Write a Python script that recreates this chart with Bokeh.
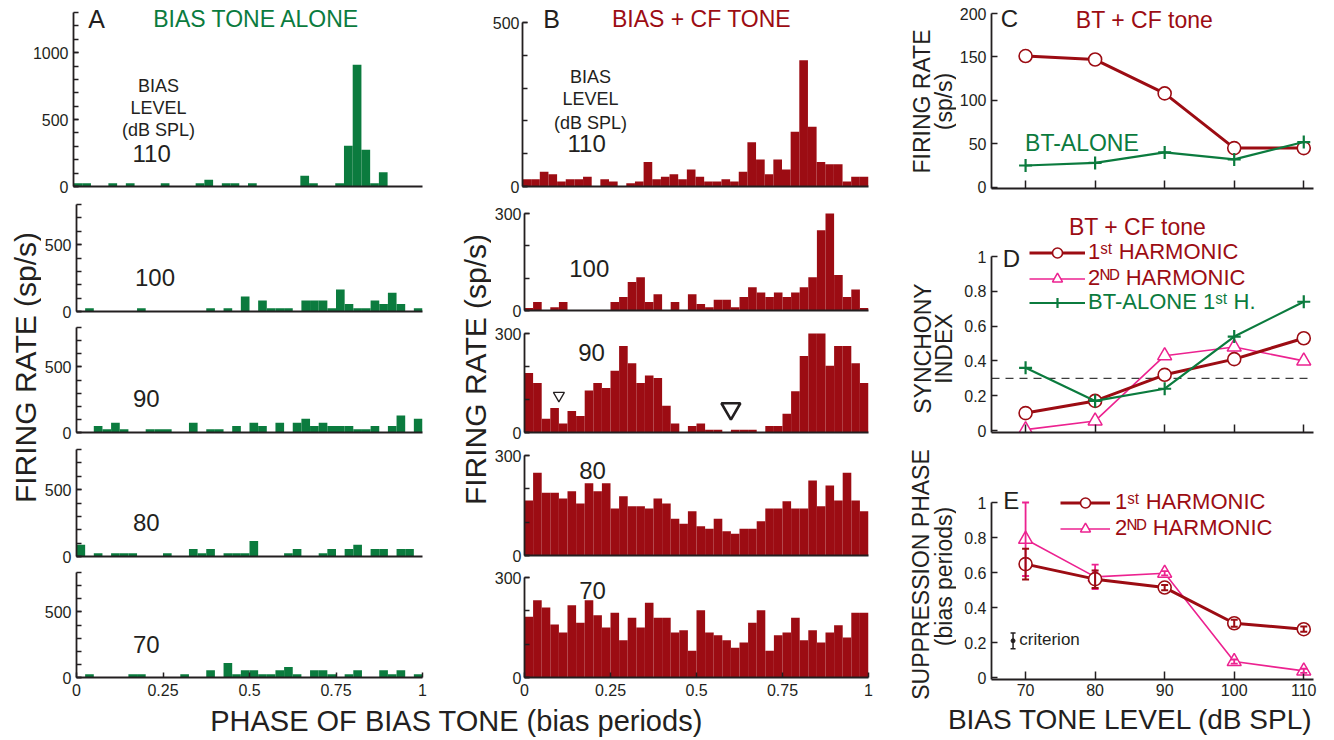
import numpy as np
from bokeh.plotting import figure
from bokeh.models import (Range1d, FixedTicker, Label, Legend, LegendItem, Whisker,
                          ColumnDataSource, Span, TeeHead)
from bokeh.layouts import row, column
from bokeh.embed import file_html
from bokeh.resources import INLINE

FONT = "Liberation Sans"
INK = "#231f20"
GREEN = "#0b7b3e"
RED = "#9c0c13"
PINK = "#ec2290"

# ------------------------------------------------------------------ data
n_bins = 40
phase_ticks = [0, 0.25, 0.5, 0.75, 1]
phase_tick_labels = ["0", "0.25", "0.5", "0.75", "1"]
hist_levels = ["110", "100", "90", "80", "70"]

# Panel A: bias tone alone, firing rate per phase bin (sp/s)
a_110 = [25, 25, 0, 0, 25, 0, 25, 0, 0, 0,
         25, 0, 0, 0, 25, 50, 0, 25, 25, 0,
         25, 0, 0, 0, 0, 0, 80, 25, 0, 0,
         25, 305, 910, 275, 25, 107, 0, 0, 0, 0]
a_100 = [0, 25, 0, 0, 0, 0, 0, 25, 0, 0,
         0, 0, 0, 0, 0, 25, 0, 25, 0, 112,
         0, 82, 25, 25, 25, 0, 82, 82, 82, 25,
         165, 57, 25, 25, 82, 57, 140, 57, 0, 25]
a_90 = [0, 0, 50, 25, 75, 25, 0, 0, 25, 25,
        25, 0, 0, 75, 0, 25, 25, 0, 50, 0,
        75, 50, 0, 75, 0, 75, 105, 50, 75, 50,
        50, 50, 25, 25, 50, 0, 50, 130, 0, 105]
a_80 = [87, 0, 25, 0, 25, 25, 25, 0, 0, 0,
        25, 0, 0, 57, 25, 57, 0, 25, 25, 25,
        115, 0, 0, 0, 25, 57, 0, 0, 25, 57,
        0, 57, 87, 0, 57, 57, 0, 57, 57, 0]
a_70 = [0, 25, 0, 0, 0, 0, 25, 25, 0, 0,
        0, 0, 25, 0, 0, 55, 0, 110, 25, 55,
        55, 25, 25, 55, 80, 25, 0, 55, 55, 25,
        0, 25, 55, 0, 0, 55, 25, 55, 0, 25]
a_rates = [a_110, a_100, a_90, a_80, a_70]
a_ymax = [1300, 800, 800, 800, 800]
a_yticks = [[0, 500, 1000], [0, 500], [0, 500], [0, 500], [0, 500]]

# Panel B: bias + CF tone
b_110 = [22, 22, 45, 37, 15, 22, 22, 30, 0, 22,
         15, 0, 10, 15, 75, 22, 30, 37, 22, 52,
         30, 15, 15, 22, 15, 45, 135, 82, 37, 82,
         52, 167, 385, 182, 75, 68, 68, 15, 30, 30]
b_100 = [8, 26, 0, 10, 26, 0, 0, 0, 0, 0,
         26, 42, 88, 103, 26, 50, 0, 26, 0, 50,
         20, 10, 33, 33, 10, 42, 72, 56, 42, 56,
         42, 56, 72, 103, 248, 306, 110, 42, 65, 8]
b_90 = [180, 150, 42, 74, 27, 65, 50, 127, 150, 135,
        187, 262, 210, 150, 173, 165, 81, 27, 0, 20,
        27, 8, 8, 0, 8, 8, 8, 0, 20, 20,
        57, 125, 232, 324, 302, 202, 262, 262, 210, 150]
b_80 = [165, 248, 188, 188, 171, 193, 156, 217, 193, 217,
        141, 178, 148, 148, 141, 171, 156, 110, 95, 133,
        88, 80, 110, 73, 65, 80, 80, 103, 141, 141,
        163, 141, 141, 225, 148, 210, 165, 248, 165, 133]
b_70 = [182, 232, 210, 159, 135, 217, 164, 232, 187, 150,
        194, 112, 179, 150, 224, 179, 179, 135, 142, 80,
        202, 135, 127, 112, 89, 105, 164, 202, 80, 127,
        135, 179, 112, 142, 105, 135, 157, 120, 194, 194]
b_rates = [b_110, b_100, b_90, b_80, b_70]
b_ymax = [500, 300, 300, 300, 300]
b_yticks = [[0, 500], [0, 300], [0, 300], [0, 300], [0, 300]]

# suppression markers on the 90 dB histogram (phase, rate)
b90_marker_phase = [0.10, 0.60]
b90_marker_rate = [112, 72]

# Panels C-E (bias tone level, dB SPL)
levels = [70, 80, 90, 100, 110]
c_bt_cf = [151, 147, 108, 45, 45]
c_bt_alone = [25, 28, 40, 32, 52]

d_h1 = [0.10, 0.17, 0.32, 0.41, 0.53]
d_h2 = [0.005, 0.055, 0.43, 0.48, 0.40]
d_bt_alone = [0.36, 0.17, 0.24, 0.54, 0.74]
d_criterion = 0.3

e_h1 = [0.648, 0.562, 0.514, 0.31, 0.276]
e_h1_err = [0.088, 0.05, 0.015, 0.02, 0.015]
e_h2 = [0.79, 0.575, 0.596, 0.091, 0.038]
e_h2_err = [0.21, 0.07, 0.012, 0.012, 0.012]
crit_x = [68.2]
crit_y = [0.21]
crit_err = [0.045]

edges = np.arange(n_bins + 1) / n_bins


# ------------------------------------------------------------------ helpers
def geom(cx, cy, w, h, bl, br, bt, bb, xr, yr):
    return dict(cx=cx, cy=cy, w=w, h=h, bl=bl, br=br, bt=bt, bb=bb,
                fx0=cx + bl, fx1=cx + w - br, fy0=cy + bt, fy1=cy + h - bb,
                x0=xr[0], x1=xr[1], y0=yr[0], y1=yr[1])


def ylim_for(fy_top, fy_bot, px_lo, v_lo, px_hi, v_hi):
    """data range of a frame whose pixel rows px_lo/px_hi carry values v_lo/v_hi"""
    k = (v_hi - v_lo) / (px_lo - px_hi)
    return (v_lo - (fy_bot - px_lo) * k, v_hi + (px_hi - fy_top) * k)


def make_fig(g, axes=True):
    kw = {}
    if not axes:
        kw = dict(x_axis_type=None, y_axis_type=None)
    p = figure(width=g["w"], height=g["h"],
               x_range=Range1d(g["x0"], g["x1"]), y_range=Range1d(g["y0"], g["y1"]),
               output_backend="svg", toolbar_location=None,
               min_border_left=g["bl"], min_border_right=g["br"],
               min_border_top=g["bt"], min_border_bottom=g["bb"], **kw)
    p.outline_line_color = None
    if axes:
        p.grid.visible = False
    return p


def style_axis(ax, size="16px", standoff=5, tick_len=5):
    ax.axis_line_color = INK
    ax.axis_line_width = 1.8
    ax.major_tick_line_color = INK
    ax.major_tick_line_width = 1.5
    ax.minor_tick_line_color = INK
    ax.minor_tick_line_width = 1.5
    ax.major_tick_in = tick_len
    ax.major_tick_out = 0
    ax.minor_tick_in = tick_len
    ax.minor_tick_out = 0
    ax.major_label_text_font = FONT
    ax.major_label_text_font_size = size
    ax.major_label_text_color = INK
    ax.major_label_standoff = standoff


def put(p, g, X, Y, text, size, color=INK, align="center", baseline="middle", angle=0.0):
    x = g["x0"] + (X - g["fx0"]) / (g["fx1"] - g["fx0"]) * (g["x1"] - g["x0"])
    y = g["y0"] + (g["fy1"] - Y) / (g["fy1"] - g["fy0"]) * (g["y1"] - g["y0"])
    p.add_layout(Label(x=x, y=y, text=text, text_font=FONT, text_font_size=f"{size}px",
                       text_color=color, text_align=align, text_baseline=baseline,
                       angle=angle))


def hist_fig(g, values, color, yticks, ymax, last, standoff):
    p = make_fig(g)
    p.quad(left=edges[:-1], right=edges[1:], bottom=0, top=values,
           fill_color=color, line_color=None)
    style_axis(p.yaxis[0], standoff=standoff)
    p.yaxis[0].ticker = FixedTicker(ticks=yticks, minor_ticks=list(range(0, ymax + 1, 100)))
    p.yaxis[0].bounds = (0, ymax)
    style_axis(p.xaxis[0], size="16px", standoff=6)
    if last:
        p.xaxis[0].ticker = FixedTicker(ticks=phase_ticks)
        p.xaxis[0].major_label_overrides = dict(zip(phase_ticks, phase_tick_labels))
    else:
        p.xaxis[0].ticker = FixedTicker(ticks=[])
    return p


# ------------------------------------------------------------------ geometry (page px)
# canvas rows (top, height) and frame rows (top, bottom)
a_rows = [(0, 196), (196, 125), (321, 121), (442, 124), (566, 135)]
a_frames = [(0, 186), (204, 311), (327, 432), (449, 556), (572, 677)]
b_rows = [(0, 196), (196, 124), (320, 122), (442, 123), (565, 136)]
b_frames = [(0, 186), (213, 310), (333, 432), (455, 555), (577, 677)]

# ------------------------------------------------------------------ panel A
figs_a, geoms_a = [], []
for i in range(5):
    cy, h = a_rows[i]
    bt = a_frames[i][0] - cy
    bb = cy + h - a_frames[i][1]
    if i == 0:
        yr = ylim_for(a_frames[i][0], a_frames[i][1], 186, 0, 12, 1300)
        g = geom(0, cy, 455, h, 73, 33, bt, bb, (0, 1), yr)
    else:
        g = geom(41, cy, 414, h, 32, 33, bt, bb, (0, 1), (0, a_ymax[i]))
    figs_a.append(hist_fig(g, a_rates[i], GREEN, a_yticks[i], a_ymax[i], i == 4, 5))
    geoms_a.append(g)

a_num_pos = [(132, 153), (132, 277), (130, 398), (130, 522), (130, 644)]
for i in range(5):
    put(figs_a[i], geoms_a[i], a_num_pos[i][0], a_num_pos[i][1], hist_levels[i], 24, align="left")
put(figs_a[0], geoms_a[0], 96, 18, "A", 25)
put(figs_a[0], geoms_a[0], 256, 18, "BIAS TONE ALONE", 23, GREEN)
put(figs_a[0], geoms_a[0], 158, 85, "BIAS", 18)
put(figs_a[0], geoms_a[0], 158, 107, "LEVEL", 18)
put(figs_a[0], geoms_a[0], 158, 129, "(dB SPL)", 18)

# ------------------------------------------------------------------ panel B
figs_b, geoms_b = [], []
for i in range(5):
    cy, h = b_rows[i]
    bt = b_frames[i][0] - cy
    bb = cy + h - b_frames[i][1]
    if i == 0:
        yr = ylim_for(b_frames[i][0], b_frames[i][1], 186, 0, 22, 500)
        g = geom(455, cy, 430, h, 67, 17, bt, bb, (0, 1), yr)
    else:
        g = geom(491, cy, 394, h, 31, 17, bt, bb, (0, 1), (0, b_ymax[i]))
    figs_b.append(hist_fig(g, b_rates[i], RED, b_yticks[i], b_ymax[i], i == 4, 3))
    geoms_b.append(g)

figs_b[2].scatter(x=b90_marker_phase[:1], y=b90_marker_rate[:1], marker="inverted_triangle",
                  size=11, fill_color="white", line_color=INK, line_width=1.3)
figs_b[2].scatter(x=b90_marker_phase[1:], y=b90_marker_rate[1:], marker="inverted_triangle",
                  size=19, fill_color="white", line_color=INK, line_width=2.6)

b_num_pos = [(567, 143), (567, 268), (576, 352), (577, 470), (577, 590)]
for i in range(5):
    put(figs_b[i], geoms_b[i], b_num_pos[i][0], b_num_pos[i][1], hist_levels[i], 24, align="left")
put(figs_b[0], geoms_b[0], 551, 18, "B", 25)
put(figs_b[0], geoms_b[0], 701, 18, "BIAS + CF TONE", 23, RED)
put(figs_b[0], geoms_b[0], 590, 76, "BIAS", 18)
put(figs_b[0], geoms_b[0], 590, 98, "LEVEL", 18)
put(figs_b[0], geoms_b[0], 590, 122, "(dB SPL)", 18)

# ------------------------------------------------------------------ shared labels (left)
g_labA = geom(0, 196, 41, 505, 0, 0, 0, 0, (0, 1), (0, 1))
labA = make_fig(g_labA, axes=False)
put(labA, g_labA, 25, 367, "FIRING RATE (sp/s)", 30, angle=np.pi / 2)

g_labB = geom(455, 196, 36, 505, 0, 0, 0, 0, (0, 1), (0, 1))
labB = make_fig(g_labB, axes=False)
put(labB, g_labB, 475, 369, "FIRING RATE (sp/s)", 30, angle=np.pi / 2)

g_bot = geom(0, 701, 885, 38, 0, 0, 0, 0, (0, 1), (0, 1))
bot = make_fig(g_bot, axes=False)
put(bot, g_bot, 456, 720, "PHASE OF BIAS TONE (bias periods)", 29)

# ------------------------------------------------------------------ panel C
xr = (65.1, 111.4)
g_c = geom(956, 0, 377, 200, 33, 20, 0, 12, xr, ylim_for(0, 188, 186.7, 0, 13, 200))
pc = make_fig(g_c)
pc.line(levels, c_bt_cf, color=RED, line_width=3)
pc.scatter(levels, c_bt_cf, marker="circle", size=13, fill_color="white", line_color=RED, line_width=1.6)
pc.line(levels, c_bt_alone, color=GREEN, line_width=2.2)
pc.scatter(levels, c_bt_alone, marker="cross", size=13, line_color=GREEN, line_width=2.2)
style_axis(pc.yaxis[0], size="16px", standoff=5, tick_len=6)
pc.yaxis[0].ticker = FixedTicker(ticks=[0, 50, 100, 150, 200])
pc.yaxis[0].bounds = (g_c["y0"], 200)
style_axis(pc.xaxis[0], size="16px", standoff=0, tick_len=8)
pc.xaxis[0].ticker = FixedTicker(ticks=[], minor_ticks=levels)
put(pc, g_c, 1007, 18, "C", 24)
put(pc, g_c, 1143, 19, "BT + CF tone", 23, RED)
put(pc, g_c, 1080, 142, "BT-ALONE", 23, GREEN)

# ------------------------------------------------------------------ panel D
g_d = geom(956, 200, 377, 240, 33, 20, 5, 8, xr, ylim_for(205, 432, 430, 0, 256, 1.0))
pd_ = make_fig(g_d)
pd_.add_layout(Span(location=d_criterion, dimension="width", line_color="#3c3c3c",
                    line_width=1.3, line_dash="8 6", level="underlay"))
r2l = pd_.line(levels, d_h2, color=PINK, line_width=1.6)
r2p = pd_.scatter(levels, d_h2, marker="triangle", size=14, fill_color="white", line_color=PINK, line_width=1.5)
r1l = pd_.line(levels, d_h1, color=RED, line_width=3)
r1p = pd_.scatter(levels, d_h1, marker="circle", size=13, fill_color="white", line_color=RED, line_width=1.6)
rgl = pd_.line(levels, d_bt_alone, color=GREEN, line_width=2.2)
rgp = pd_.scatter(levels, d_bt_alone, marker="cross", size=13, line_color=GREEN, line_width=2.2)
style_axis(pd_.yaxis[0], size="16px", standoff=5, tick_len=6)
d_ticks = [0, 0.2, 0.4, 0.6, 0.8, 1]
d_tick_labels = ["0", "0.2", "0.4", "0.6", "0.8", "1"]
pd_.yaxis[0].ticker = FixedTicker(ticks=d_ticks)
pd_.yaxis[0].major_label_overrides = dict(zip(d_ticks, d_tick_labels))
pd_.yaxis[0].bounds = (g_d["y0"], 1.0)
style_axis(pd_.xaxis[0], size="16px", standoff=0, tick_len=8)
pd_.xaxis[0].ticker = FixedTicker(ticks=[], minor_ticks=levels)

leg_common = dict(border_line_color=None, background_fill_alpha=0, padding=0, margin=0,
                  spacing=0, glyph_height=25, label_height=25,
                  label_text_font=FONT, label_text_font_size="22px")
legD1 = Legend(items=[LegendItem(label="1ˢᵗ HARMONIC", renderers=[r1l, r1p]),
                      LegendItem(label="2ᴺᴰ HARMONIC", renderers=[r2l, r2p])],
               location=(38, 141), glyph_width=56, label_standoff=3,
               label_text_color=RED, **leg_common)
legD2 = Legend(items=[LegendItem(label="BT-ALONE 1ˢᵗ H.", renderers=[rgl, rgp])],
               location=(38, 117), glyph_width=56, label_standoff=3,
               label_text_color=GREEN, **leg_common)
pd_.add_layout(legD1)
pd_.add_layout(legD2)
put(pd_, g_d, 1136, 226, "BT + CF tone", 23, RED)
put(pd_, g_d, 1009, 258, "D", 24)

# ------------------------------------------------------------------ panel E
g_e = geom(956, 440, 377, 262, 33, 20, 5, 23, xr, ylim_for(445, 679, 677, 0, 502, 1.0))
pe = make_fig(g_e)
s2 = ColumnDataSource(dict(x=levels, y=e_h2,
                           lo=[v - e for v, e in zip(e_h2, e_h2_err)],
                           up=[v + e for v, e in zip(e_h2, e_h2_err)]))
s1 = ColumnDataSource(dict(x=levels, y=e_h1,
                           lo=[v - e for v, e in zip(e_h1, e_h1_err)],
                           up=[v + e for v, e in zip(e_h1, e_h1_err)]))
sc = ColumnDataSource(dict(x=crit_x, y=crit_y,
                           lo=[v - e for v, e in zip(crit_y, crit_err)],
                           up=[v + e for v, e in zip(crit_y, crit_err)]))
e2l = pe.line("x", "y", source=s2, color=PINK, line_width=1.6)
e2p = pe.scatter("x", "y", source=s2, marker="triangle", size=14, fill_color="white", line_color=PINK, line_width=1.5)
e1l = pe.line("x", "y", source=s1, color=RED, line_width=3)
e1p = pe.scatter("x", "y", source=s1, marker="circle", size=13, fill_color="white", line_color=RED, line_width=1.6)
pe.add_layout(Whisker(source=s2, base="x", lower="lo", upper="up", dimension="height",
                      line_color=PINK, line_width=1.8, level="annotation",
                      upper_head=TeeHead(size=7, line_color=PINK, line_width=1.8),
                      lower_head=TeeHead(size=7, line_color=PINK, line_width=1.8)))
pe.add_layout(Whisker(source=s1, base="x", lower="lo", upper="up", dimension="height",
                      line_color=RED, line_width=2, level="annotation",
                      upper_head=TeeHead(size=7, line_color=RED, line_width=2),
                      lower_head=TeeHead(size=7, line_color=RED, line_width=2)))
pe.add_layout(Whisker(source=sc, base="x", lower="lo", upper="up", dimension="height",
                      line_color=INK, line_width=1.5, level="annotation",
                      upper_head=TeeHead(size=5, line_color=INK, line_width=1.5),
                      lower_head=TeeHead(size=5, line_color=INK, line_width=1.5)))
pe.scatter("x", "y", source=sc, marker="circle", size=4, fill_color=INK, line_color=INK)
style_axis(pe.yaxis[0], size="16px", standoff=5, tick_len=6)
pe.yaxis[0].ticker = FixedTicker(ticks=d_ticks)
pe.yaxis[0].major_label_overrides = dict(zip(d_ticks, d_tick_labels))
pe.yaxis[0].bounds = (g_e["y0"], 1.0)
style_axis(pe.xaxis[0], size="16px", standoff=4, tick_len=8)
pe.xaxis[0].ticker = FixedTicker(ticks=levels)
legE = Legend(items=[LegendItem(label="1ˢᵗ HARMONIC", renderers=[e1l, e1p]),
                     LegendItem(label="2ᴺᴰ HARMONIC", renderers=[e2l, e2p])],
              location=(69, 138), glyph_width=50, label_standoff=5,
              label_text_color=RED, **leg_common)
pe.add_layout(legE)
put(pe, g_e, 1009, 500, "E", 24)
put(pe, g_e, 1017, 639, "criterion", 17, align="left")

# ------------------------------------------------------------------ right-hand labels
g_ylR = geom(885, 0, 71, 702, 0, 0, 0, 0, (0, 1), (0, 1))
ylR = make_fig(g_ylR, axes=False)
put(ylR, g_ylR, 921, 101, "FIRING RATE", 23, angle=np.pi / 2)
put(ylR, g_ylR, 943, 101, "(sp/s)", 23, angle=np.pi / 2)
put(ylR, g_ylR, 922, 348, "SYNCHONY", 23, angle=np.pi / 2)
put(ylR, g_ylR, 943, 348, "INDEX", 23, angle=np.pi / 2)
put(ylR, g_ylR, 920, 574, "SUPPRESSION PHASE", 23, angle=np.pi / 2)
put(ylR, g_ylR, 943, 576, "(bias periods)", 23, angle=np.pi / 2)

g_xlE = geom(885, 702, 448, 37, 0, 0, 0, 0, (0, 1), (0, 1))
xlE = make_fig(g_xlE, axes=False)
put(xlE, g_xlE, 1130, 719, "BIAS TONE LEVEL (dB SPL)", 28)

# ------------------------------------------------------------------ layout
colA = column(figs_a[0], row(labA, column(*figs_a[1:], spacing=0), spacing=0), spacing=0)
colB = column(figs_b[0], row(labB, column(*figs_b[1:], spacing=0), spacing=0), spacing=0)
left = column(row(colA, colB, spacing=0), bot, spacing=0)
right = column(row(ylR, column(pc, pd_, pe, spacing=0), spacing=0), xlE, spacing=0)
root = row(left, right, spacing=0)

open("out.html", "w").write(file_html(root, INLINE))
